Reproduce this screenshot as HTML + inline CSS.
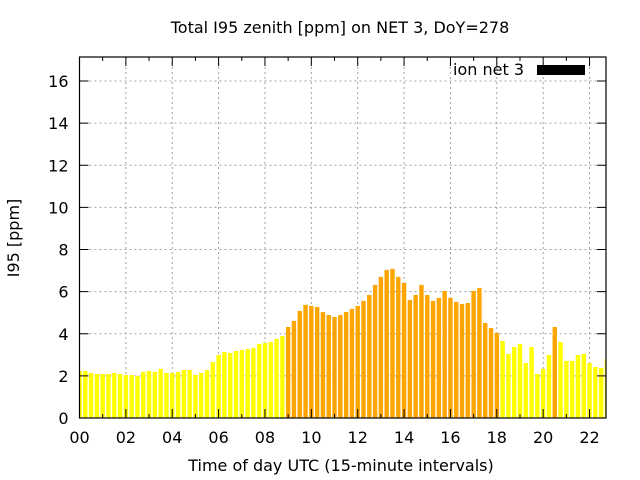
<!DOCTYPE html>
<html><head><meta charset="utf-8"><style>
html,body{margin:0;padding:0;background:#fff;}
svg{display:block;font-family:"DejaVu Sans",sans-serif;}
</style></head><body>
<svg id="chart" width="640" height="480" viewBox="0 0 640 480" xmlns="http://www.w3.org/2000/svg">
<rect width="640" height="480" fill="#fff"/>
<text x="340" y="33" font-size="16" text-anchor="middle">Total I95 zenith [ppm] on NET 3, DoY=278</text>
<g id="grid"></g>
<g id="bars"></g>
<g id="axes"></g>
<text transform="translate(19,238) rotate(-90)" font-size="16" text-anchor="middle">I95 [ppm]</text>
<text x="341" y="471" font-size="16" text-anchor="middle">Time of day UTC (15-minute intervals)</text>
<g>
<text x="524" y="75" font-size="16" text-anchor="end">ion net 3</text>
<rect x="537" y="65" width="48" height="10" fill="#000"/>
</g>
</svg>
<script>
const values = [2.23,2.23,2.14,2.09,2.09,2.09,2.14,2.09,2.04,2.04,1.99,2.19,2.23,2.19,2.33,2.14,2.14,2.19,2.28,2.28,2.04,2.14,2.28,2.66,2.99,3.13,3.09,3.18,3.23,3.28,3.32,3.51,3.56,3.61,3.75,3.89,4.32,4.61,5.08,5.37,5.32,5.27,5.03,4.89,4.80,4.89,5.03,5.18,5.32,5.56,5.84,6.32,6.70,7.03,7.08,6.70,6.41,5.60,5.84,6.32,5.84,5.56,5.70,6.03,5.70,5.51,5.41,5.46,6.03,6.17,4.51,4.27,4.04,3.66,3.04,3.37,3.51,2.61,3.37,2.09,2.33,2.99,4.32,3.61,2.71,2.71,2.99,3.04,2.61,2.42,2.37,2.80];
const yTicks = [0,2,4,6,8,10,12,14,16];
const xTickLabels = ["00","02","04","06","08","10","12","14","16","18","20","22"];
const xTickHours = [0,2,4,6,8,10,12,14,16,18,20,22];
const threshold = 4;

const L=79.5,R=606,T=57,B=418;
const XMAX=22.71,YMAX=17.14;
const xs=h=>L+(h/XMAX)*(R-L);
const ys=v=>B-(v/YMAX)*(B-T);
const NS="http://www.w3.org/2000/svg";
function mk(tag,attrs,parent){const e=document.createElementNS(NS,tag);for(const k in attrs)e.setAttribute(k,attrs[k]);parent.appendChild(e);return e;}
const grid=document.getElementById('grid'),bars=document.getElementById('bars'),axes=document.getElementById('axes');

yTicks.forEach(v=>{
  const y=ys(v);
  if(v>0){const g=mk('line',{x1:L,x2:R,y1:y,y2:y,stroke:'#a0a0a0','stroke-width':1,'stroke-dasharray':'2,3'},grid);
  
  }
  const t=mk('line',{x1:L,x2:L+9,y1:y,y2:y,stroke:'#000'},axes);
  
  
  const t2=mk('line',{x1:R-9,x2:R,y1:y,y2:y,stroke:'#000'},axes);
  
  
  const lb=mk('text',{x:L-11,y:y+6,'font-size':16,'text-anchor':'end'},axes);
  lb.textContent=v;
  
  
});
for(let h=1;h<XMAX;h+=2){
  const x=xs(h);
  const m=mk('line',{x1:x,x2:x,y1:T,y2:T+4,stroke:'#000'},axes);
  
  
  const m2=mk('line',{x1:x,x2:x,y1:B,y2:B-4,stroke:'#000'},axes);
  
  
}
xTickHours.forEach((h,i)=>{
  const x=xs(h);
  if(h>0){const g=mk('line',{x1:x,x2:x,y1:T,y2:B,stroke:'#a0a0a0','stroke-width':1,'stroke-dasharray':'2,3'},grid);
  
  }
  const t=mk('line',{x1:x,x2:x,y1:B,y2:B-9,stroke:'#000'},axes);
  
  
  const t2=mk('line',{x1:x,x2:x,y1:T,y2:T+9,stroke:'#000'},axes);
  
  
  const lb=mk('text',{x:x,y:B+25,'font-size':16,'text-anchor':'middle'},axes);
  lb.textContent=xTickLabels[i];
  
  
});
const step=xs(0.25)-xs(0), bw=step*0.76;
values.forEach((v,i)=>{
  const cx=xs(i*0.25);
  let x0=Math.max(cx-bw/2,L+0.5), x1=Math.min(cx+bw/2,R-0.5);
  if(x1<=x0) return;
  const r=mk('rect',{x:x0,y:ys(v),width:x1-x0,height:B-ys(v),fill:v>=threshold?'#ffa500':'#ffff00'},bars);
  
  
});
const bd=mk('rect',{x:L,y:T,width:R-L,height:B-T,fill:'none',stroke:'#000','stroke-width':1.2},axes);


</script>
</body></html>
